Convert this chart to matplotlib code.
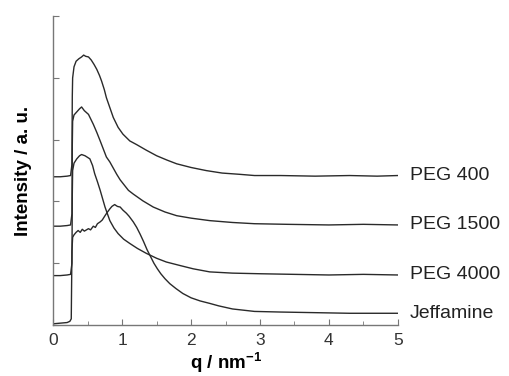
import numpy as np
import matplotlib
matplotlib.use('Agg')
import matplotlib.pyplot as plt

plt.rcParams['font.family'] = ['Liberation Sans', 'DejaVu Sans']
plt.rcParams['mathtext.fontset'] = 'custom'
plt.rcParams['mathtext.rm'] = 'Liberation Sans'
plt.rcParams['mathtext.bf'] = 'Liberation Sans:bold'

labels = ["PEG 400", "PEG 1500", "PEG 4000", "Jeffamine"]

# values (offset curves, arbitrary units)
q_400 = [0, 0.1, 0.2, 0.25, 0.27, 0.275, 0.28, 0.30, 0.33, 0.37, 0.41, 0.44, 0.47,
         0.51, 0.55, 0.59, 0.63, 0.67, 0.70, 0.74, 0.77, 0.82, 0.87, 0.94, 1.01, 1.11,
         1.21, 1.35, 1.50, 1.65, 1.79, 2.0, 2.22, 2.45, 2.7, 2.92, 3.3, 3.8, 4.3,
         4.7, 5.0]
i_400 = [2.40, 2.40, 2.41, 2.42, 2.60, 3.70, 4.00, 4.18, 4.27, 4.31, 4.34, 4.37, 4.35,
         4.34, 4.29, 4.22, 4.14, 4.04, 3.95, 3.81, 3.68, 3.52, 3.36, 3.20, 3.09, 2.98,
         2.92, 2.83, 2.74, 2.67, 2.61, 2.55, 2.50, 2.46, 2.44, 2.42, 2.42, 2.41, 2.42,
         2.41, 2.42]

q_1500 = [0, 0.1, 0.2, 0.25, 0.27, 0.275, 0.28, 0.30, 0.34, 0.38, 0.41, 0.45, 0.51,
          0.58, 0.63, 0.68, 0.77, 0.82, 0.92, 0.97, 1.09, 1.16, 1.30, 1.45, 1.62,
          1.79, 2.0, 2.27, 2.6, 2.92, 3.4, 4.0, 4.5, 5.0]
i_1500 = [1.60, 1.60, 1.61, 1.62, 1.80, 2.90, 3.30, 3.40, 3.45, 3.50, 3.53, 3.47, 3.41,
          3.25, 3.12, 2.98, 2.72, 2.64, 2.44, 2.35, 2.18, 2.12, 2.01, 1.91, 1.83,
          1.77, 1.73, 1.69, 1.66, 1.64, 1.63, 1.62, 1.63, 1.62]

q_4000 = [0, 0.1, 0.2, 0.25, 0.27, 0.275, 0.28, 0.30, 0.34, 0.38, 0.41, 0.46, 0.53,
          0.57, 0.60, 0.64, 0.68, 0.75, 0.82, 0.88, 0.94, 1.02, 1.11, 1.22, 1.35,
          1.50, 1.64, 1.85, 2.03, 2.27, 2.6, 3.0, 3.5, 4.0, 4.5, 5.0]
i_4000 = [0.80, 0.80, 0.81, 0.82, 1.00, 2.10, 2.50, 2.62, 2.69, 2.74, 2.76, 2.74, 2.69,
          2.58, 2.45, 2.32, 2.18, 1.91, 1.69, 1.57, 1.48, 1.39, 1.32, 1.24, 1.16,
          1.08, 1.02, 0.96, 0.91, 0.86, 0.84, 0.83, 0.82, 0.81, 0.82, 0.81]

q_jef = [0, 0.1, 0.2, 0.24, 0.26, 0.27, 0.28, 0.30, 0.33, 0.36, 0.39, 0.42, 0.45,
         0.48, 0.51, 0.54, 0.58, 0.61, 0.64, 0.68, 0.71, 0.75, 0.78, 0.82, 0.85,
         0.89, 0.93, 0.97, 1.01, 1.06, 1.10, 1.16, 1.21, 1.26, 1.31, 1.36, 1.41,
         1.46, 1.51, 1.56, 1.62, 1.69, 1.78, 1.88, 2.00, 2.13, 2.27, 2.40, 2.60,
         2.92, 3.3, 3.8, 4.3, 4.7, 5.0]
i_jef = [0.02, 0.03, 0.04, 0.06, 0.10, 1.20, 1.42, 1.46, 1.50, 1.53, 1.50, 1.55, 1.52,
         1.54, 1.56, 1.54, 1.60, 1.58, 1.64, 1.67, 1.70, 1.77, 1.82, 1.88, 1.92,
         1.95, 1.92, 1.91, 1.86, 1.81, 1.76, 1.67, 1.58, 1.47, 1.35, 1.22, 1.11,
         1.00, 0.91, 0.83, 0.75, 0.67, 0.59, 0.51, 0.44, 0.39, 0.35, 0.31, 0.26,
         0.22, 0.21, 0.20, 0.19, 0.19, 0.19]

curves = [(q_400, i_400), (q_1500, i_1500), (q_4000, i_4000), (q_jef, i_jef)]

fig = plt.figure(figsize=(5.1, 3.76), dpi=100)
ax = fig.add_axes([0.1046, 0.1356, 0.6754, 0.8214])

for q, inten in curves:
    ax.plot(q, inten, color='#2a2a2a', linewidth=1.0)

for (q, inten), lab in zip(curves, labels):
    ax.text(5.17, inten[-1], lab, fontsize=14, color='#222222',
            va='center', ha='left', clip_on=False)

ax.set_xlim(0, 5)
ax.set_ylim(0, 5)
ax.set_xticks([0, 1, 2, 3, 4, 5])
ax.set_xticks(np.arange(0.5, 5, 1.0), minor=True)
ax.set_yticks([0, 1, 2, 3, 4, 5])
ax.set_yticklabels([])

for side in ['top', 'right']:
    ax.spines[side].set_visible(False)
for side in ['left', 'bottom']:
    ax.spines[side].set_color('#777777')
    ax.spines[side].set_linewidth(1.0)

ax.tick_params(axis='both', which='major', direction='in', length=4,
               color='#777777', labelsize=12.5, labelcolor='#333333')
ax.tick_params(axis='x', which='major', pad=6)
ax.tick_params(axis='x', which='minor', direction='in', length=3, color='#777777')

ax.set_xlabel('q / nm$^{\\mathbf{-1}}$', fontsize=13.5, fontweight='bold', labelpad=1)
ax.set_ylabel('Intensity / a. u.', fontsize=13.5, fontweight='bold', labelpad=12)

fig.savefig('out.png', dpi=100)
